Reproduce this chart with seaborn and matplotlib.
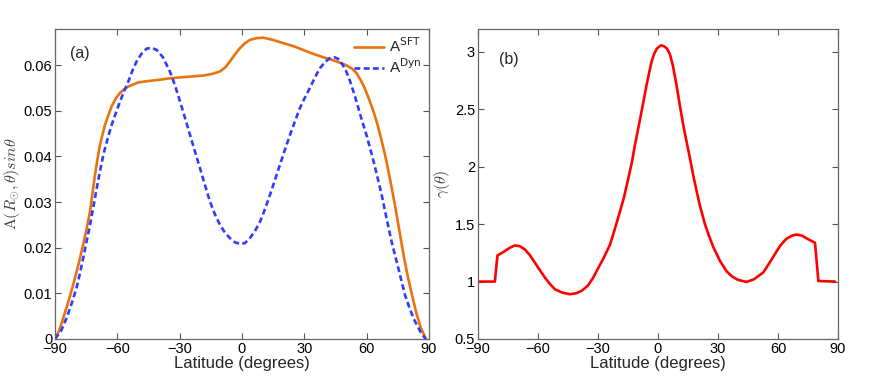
import pandas as pd
import seaborn as sns
import matplotlib.pyplot as plt

# Панель (a): широта и две кривые
lat_sft = [-90, -88, -86, -83.5, -81.2, -78.8, -76.4, -74.7, -73.1, -71.9, -70.7,
           -69.5, -68.3, -67, -65.9, -64.3, -62.7, -60.7, -58.7, -56.7, -54.7, -52,
           -49.9, -45, -39.4, -34.7, -27, -18.6, -14, -10.6, -8, -5.8, -3.4, -1,
           1.5, 3.8, 7, 10.2, 15, 19.9, 25, 29.5, 34, 39.1, 42.3, 46, 50, 53, 55,
           57, 59, 61, 63, 65, 67, 69, 70, 72, 74, 76, 78, 80, 82, 84, 86, 88.5]
a_sft = [0.0, 0.0018, 0.0046, 0.0082, 0.0119, 0.0161, 0.0207, 0.0243, 0.028,
         0.032, 0.036, 0.0395, 0.0426, 0.045, 0.0469, 0.049, 0.051, 0.0527,
         0.0539, 0.0547, 0.0553, 0.0558, 0.0562, 0.0565, 0.0568, 0.0571, 0.0574,
         0.0577, 0.0581, 0.0586, 0.0595, 0.0608, 0.0623, 0.0637, 0.0648, 0.0655,
         0.0659, 0.066, 0.0655, 0.0648, 0.0641, 0.0633, 0.0625, 0.0617, 0.0613,
         0.0607, 0.060, 0.0592, 0.0583, 0.0568, 0.055, 0.0527, 0.0502, 0.0473,
         0.0438, 0.040, 0.0378, 0.0332, 0.0283, 0.023, 0.0178, 0.0132, 0.0093,
         0.0055, 0.0025, 0.0]

lat_dyn = [-90, -87, -84.4, -82, -79.6, -78, -76.4, -74.8, -73.1, -71.5, -69.9,
           -68.3, -66.7, -64.7, -62.7, -60.7, -58.7, -56.7, -54.7, -52.7, -50.7,
           -48.3, -45.9, -43.5, -41, -38, -34.7, -32.2, -29.8, -27.4, -25, -22.6,
           -20.2, -17.8, -15.4, -13, -10.6, -8.2, -5.8, -3.4, -1, 1.4, 3.8, 6.2,
           8.7, 11.1, 13.5, 15.9, 18.3, 20.7, 23.1, 25.5, 27.9, 30.3, 32.7, 35.1,
           37.5, 40, 42.3, 44.5, 47, 50, 52, 54.4, 57, 60, 63, 65, 67.2, 70, 72,
           74.4, 76, 78.4, 81, 83.2, 86, 88.4]
a_dyn = [0.0, 0.0018, 0.0046, 0.0077, 0.0112, 0.0143, 0.0177, 0.0213, 0.025,
         0.029, 0.033, 0.0368, 0.0404, 0.0438, 0.0469, 0.0495, 0.052, 0.0543,
         0.0564, 0.0588, 0.0608, 0.0625, 0.0636, 0.0638, 0.0633, 0.0617, 0.0586,
         0.0555, 0.052, 0.0484, 0.0447, 0.041, 0.0374, 0.0337, 0.0301, 0.0273,
         0.025, 0.0233, 0.0221, 0.0212, 0.0208, 0.021, 0.0221, 0.0236, 0.0257,
         0.0285, 0.0316, 0.0349, 0.0382, 0.0415, 0.0447, 0.0477, 0.0506, 0.0529,
         0.055, 0.0573, 0.0593, 0.0607, 0.0615, 0.0617, 0.0612, 0.0588, 0.0565,
         0.0531, 0.049, 0.0445, 0.0395, 0.0358, 0.0316, 0.0255, 0.0213, 0.017,
         0.0141, 0.0097, 0.0063, 0.0039, 0.0015, 0.0]

# Панель (b): gamma(theta)
lat_gam = [-90, -81.5, -80.2, -77, -74, -71.5, -69, -66.5, -64, -61.5, -59, -56.5,
           -54, -51.5, -48, -44, -41, -38.2, -35, -32.3, -30.7, -27, -24, -21.5,
           -19, -17, -14.8, -13, -11.5, -10, -8.2, -7, -5.7, -4.5, -3.2, -2, -0.5,
           1.5, 3, 4.5, 6, 7.5, 9.3, 11, 12.7, 14.3, 16, 17.6, 19.3, 21, 23.5,
           25.5, 27.7, 29.5, 31, 34.3, 37, 40, 44.3, 48, 52.7, 56, 58.5, 61, 64,
           67, 69.3, 72, 75, 78.5, 80.2, 88.5]
gamma = [1.0, 1.0, 1.228, 1.26, 1.295, 1.315, 1.308, 1.28, 1.23, 1.165, 1.10,
         1.035, 0.98, 0.933, 0.905, 0.89, 0.898, 0.918, 0.965, 1.035, 1.09, 1.21,
         1.32, 1.46, 1.61, 1.73, 1.90, 2.04, 2.19, 2.32, 2.48, 2.59, 2.71, 2.81,
         2.913, 2.98, 3.03, 3.058, 3.05, 3.03, 2.98, 2.88, 2.71, 2.53, 2.36,
         2.22, 2.075, 1.93, 1.79, 1.66, 1.50, 1.40, 1.30, 1.235, 1.18, 1.09,
         1.045, 1.015, 0.997, 1.02, 1.08, 1.17, 1.24, 1.31, 1.37, 1.40, 1.41,
         1.40, 1.37, 1.338, 1.005, 1.0]

sns.set_style("ticks")
plt.rcParams['font.family'] = ['Liberation Sans', 'DejaVu Sans']
plt.rcParams['xtick.direction'] = 'in'
plt.rcParams['ytick.direction'] = 'in'
plt.rcParams['lines.solid_joinstyle'] = 'round'

fig = plt.figure(figsize=(8.72, 3.82), dpi=100)
ax1 = fig.add_axes([0.063, 0.1126, 0.429, 0.8115])
ax2 = fig.add_axes([0.548, 0.1126, 0.413, 0.8115])

df_sft = pd.DataFrame({'lat': lat_sft, 'val': a_sft})
df_dyn = pd.DataFrame({'lat': lat_dyn, 'val': a_dyn})
df_gam = pd.DataFrame({'lat': lat_gam, 'val': gamma})

sns.lineplot(data=df_sft, x='lat', y='val', ax=ax1, color='#E8730F', lw=1.9,
             label='A$^{\\mathsf{SFT}}$', sort=False)
sns.lineplot(data=df_dyn, x='lat', y='val', ax=ax1, color='#2E3CFF', lw=1.9,
             label='A$^{\\mathsf{Dyn}}$', sort=False)
ax1.lines[1].set_linestyle((0, (2.2, 1.3)))
sns.lineplot(data=df_gam, x='lat', y='val', ax=ax2, color='#FF0000', lw=1.9,
             sort=False)

ticks = [-90, -60, -30, 0, 30, 60, 90]
for ax in (ax1, ax2):
    ax.set_xlim(-90, 90)
    ax.set_xticks(ticks)
    ax.tick_params(top=True, right=True, labelsize=10.5, length=4, width=0.8,
                   colors='#555555', labelcolor='black', pad=2)
    for s in ax.spines.values():
        s.set_color('#666666')
        s.set_linewidth(0.9)
    ax.set_xlabel('Latitude (degrees)', fontsize=12, labelpad=0)

ax1.set_ylim(0, 0.0679)
ax1.set_yticks([0, 0.01, 0.02, 0.03, 0.04, 0.05, 0.06])
ax1.set_yticklabels(['0', '0.01', '0.02', '0.03', '0.04', '0.05', '0.06'])
ax1.set_ylabel(r'$\mathrm{A}(R_{\odot},\theta)sin\theta$', fontsize=11.5,
               color='#444444', math_fontfamily='cm')
ax1.yaxis.set_label_coords(-0.088, 0.5)
ax1.text(0.04, 0.92, '(a)', transform=ax1.transAxes, fontsize=11.5, va='center')
ax1.legend(loc='upper right', frameon=False, fontsize=11,
           handlelength=2.0, borderaxespad=0.1, labelspacing=0.15,
           handletextpad=0.3)

ax2.set_ylim(0.5, 3.2)
ax2.set_yticks([0.5, 1, 1.5, 2, 2.5, 3])
ax2.set_yticklabels(['0.5', '1', '1.5', '2', '2.5', '3'])
ax2.set_ylabel(r'$\gamma(\theta)$', fontsize=11.5, color='#444444',
               math_fontfamily='cm')
ax2.yaxis.set_label_coords(-0.072, 0.5)
ax2.text(0.058, 0.9, '(b)', transform=ax2.transAxes, fontsize=11.5, va='center')

fig.savefig('out.png', dpi=100)
